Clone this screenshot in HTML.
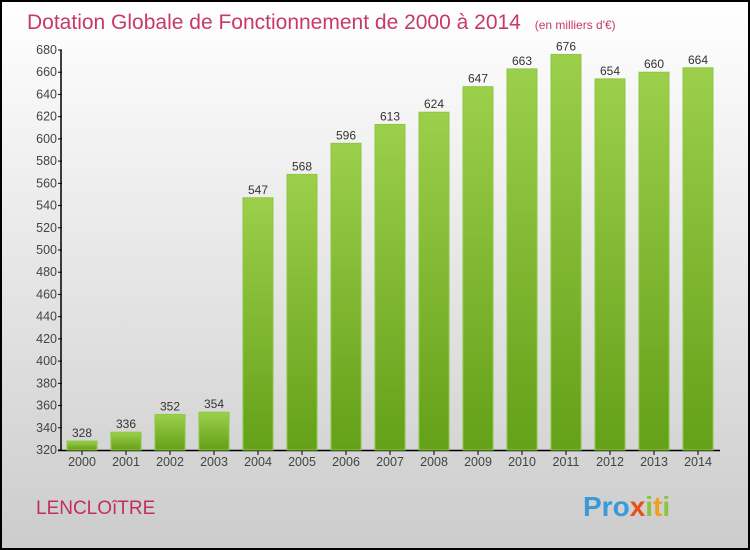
<!DOCTYPE html>
<html><head><meta charset="utf-8"><style>
body{margin:0;width:750px;height:550px;overflow:hidden;font-family:"Liberation Sans",sans-serif}
#c{position:absolute;left:0;top:0;width:746px;height:546px;border:2px solid #000;background:linear-gradient(#fff,#ccc)}
</style></head><body>
<div id="c">
<svg width="746" height="546" viewBox="2 2 746 546" style="position:absolute;left:0;top:0">
<defs><linearGradient id="g" x1="0" y1="0" x2="0" y2="1"><stop offset="0" stop-color="#9ccf4c"/><stop offset="1" stop-color="#64a018"/></linearGradient></defs>
<text x="27" y="29" font-size="21" fill="#c63a66">Dotation Globale de Fonctionnement de 2000 à 2014 <tspan font-size="12" dx="8">(en milliers d'€)</tspan></text>
<text x="36" y="514" font-size="19" fill="#c0305e">LENCLOîTRE</text>
<text x="583" y="516" font-size="28" font-weight="bold" fill="#3a9ad8">Pro<tspan fill="#e8501a">x</tspan><tspan fill="#8bc43f">i</tspan><tspan fill="#f0a020">t</tspan><tspan fill="#8bc43f">i</tspan></text>
<g id="axes"></g><g id="bars"></g>
</svg></div>
<script>
const years=["2000","2001","2002","2003","2004","2005","2006","2007","2008","2009","2010","2011","2012","2013","2014"];
const values=[328,336,352,354,547,568,596,613,624,647,663,676,654,660,664];
const ticks=[320,340,360,380,400,420,440,460,480,500,520,540,560,580,600,620,640,660,680];
const NS="http://www.w3.org/2000/svg";
const y=v=>450-(v-320)*400/360, x=i=>82+i*44;
function mk(t,a,p){const e=document.createElementNS(NS,t);for(const k in a)e.setAttribute(k,a[k]);p.appendChild(e);return e;}
const ax=document.getElementById('axes'),bg=document.getElementById('bars');
ticks.forEach(t=>{
 const l=mk('line',{x1:58,x2:62,y1:y(t),y2:y(t),stroke:'#000'},ax);
 
 
 const tx=mk('text',{x:57,y:y(t)+4,'font-size':12.5,fill:'#444','text-anchor':'end'},ax);tx.textContent=t;
 
 
});
const ya=mk('line',{x1:61,x2:61,y1:y(680),y2:451,stroke:'#000','stroke-width':1.5},ax);


const xa=mk('line',{x1:58,x2:720,y1:450.5,y2:450.5,stroke:'#000','stroke-width':1.5},ax);


years.forEach((yr,i)=>{
 const v=values[i];
 const r=mk('rect',{x:x(i)-15,y:y(v),width:30,height:450-y(v),fill:'url(#g)',stroke:'#8cc840','stroke-width':1},bg);
 
 
 const vl=mk('text',{x:x(i),y:y(v)-4,'font-size':12,fill:'#333','text-anchor':'middle'},bg);vl.textContent=v;
 
 
 const tk=mk('line',{x1:x(i),x2:x(i),y1:450,y2:455,stroke:'#000'},ax);
 
 
 const xl=mk('text',{x:x(i),y:466,'font-size':12.5,fill:'#444','text-anchor':'middle'},ax);xl.textContent=yr;
 
 
});
</script>
</body></html>
